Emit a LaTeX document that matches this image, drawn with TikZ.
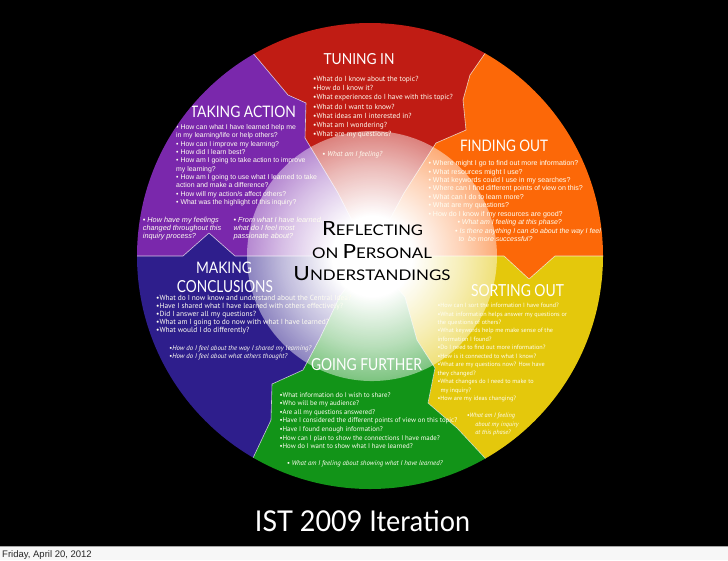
\documentclass[tikz,border=0pt]{standalone}
\usepackage{fontspec}
\usepackage{graphicx}
\usetikzlibrary{fadings}
\newfontfamily\hdfont{Lato}
\newfontfamily\myr{PT Sans}
\newfontfamily\ari{Liberation Sans}
\definecolor{cred}{RGB}{192,28,20}
\definecolor{corange}{RGB}{252,104,8}
\definecolor{cyellow}{RGB}{228,200,12}
\definecolor{cgreen}{RGB}{18,148,24}
\definecolor{cblue}{RGB}{46,30,140}
\definecolor{cpurple}{RGB}{122,40,172}
\pgfdeclareradialshading{glowshade}{\pgfpoint{0bp}{0bp}}{color(0bp)=(white); color(8bp)=(white); color(18bp)=(black!30); color(28bp)=(black!66); color(40bp)=(black!92); color(50bp)=(black)}
\pgfdeclarefading{glow}{\pgfuseshading{glowshade}}
\pgfdeclareradialshading{vigshade}{\pgfpoint{0bp}{0bp}}{color(0bp)=(black); color(32bp)=(black); color(50bp)=(black!62)}
\pgfdeclarefading{vig}{\pgfuseshading{vigshade}}
\newcommand\hdtxt[3]{\resizebox{#1pt}{#2pt}{\hdfont #3}}
\newcommand\bsc[2]{{\fontsize{20}{20}\selectfont #1}{\fontsize{15}{15}\selectfont #2}}
\begin{document}
\begin{tikzpicture}[x=1pt,y=-1pt,
  hd/.style={text=white, inner sep=0pt, anchor=base},
  bodyM/.style={text=white!95!yellow, inner sep=0pt, anchor=north west, align=left},
  bodyA/.style={text=white!95!yellow, inner sep=0pt, anchor=north west, align=left},
  bline/.style={white, line width=0.6pt, opacity=0.75, line join=round}]
\useasboundingbox (0,0) rectangle (728,560);
\fill[black] (0,0) rectangle (728,546);
\fill[gray!6] (0,546) rectangle (728,560);
\draw[gray!70, line width=0.8pt] (0,546.4) -- (728,546.4);
\coordinate (C) at (370,256);
\begin{scope}
\clip (C) circle[radius=233pt];
% sectors
\fill[cred] (C) -- (338,193) -- (305,138) -- (306,103) -- (288,95) -- (252,52) -- (236,24) -- (236,0) -- (500,0) -- (500,24) -- (486,52) -- (470,75) -- (463,100) -- (466,130) -- (436,143) -- (404,193) -- cycle;
\fill[corange] (C) -- (404,193) -- (436,143) -- (466,130) -- (463,100) -- (470,75) -- (486,52) -- (500,24) -- (500,0) -- (650,0) -- (650,256) -- (555,256) -- (529,279) -- (504,256) -- cycle;
\fill[cyellow] (C) -- (504,256) -- (529,279) -- (555,256) -- (650,256) -- (650,520) -- (500,520) -- (500,486) -- (485,458) -- (457,428) -- (428,403) -- (435,368) -- (417,340) -- (405,297) -- cycle;
\fill[cgreen] (C) -- (405,297) -- (417,340) -- (435,368) -- (428,403) -- (457,428) -- (485,458) -- (500,486) -- (500,520) -- (238,520) -- (238,486) -- (253,458) -- (271,420) -- (272,384) -- (303,370) -- (320,338) -- (340,296) -- cycle;
\fill[cblue] (C) -- (340,296) -- (320,338) -- (303,370) -- (272,384) -- (271,420) -- (253,458) -- (238,486) -- (238,520) -- (100,520) -- (100,256) -- (183,256) -- (209,233) -- (235,256) -- cycle;
\fill[cpurple] (C) -- (235,256) -- (209,233) -- (183,256) -- (100,256) -- (100,0) -- (236,0) -- (236,24) -- (252,52) -- (288,95) -- (306,103) -- (305,138) -- (338,193) -- cycle;
\fill[black, path fading=vig] (C) circle[radius=233pt];
% boundaries
\draw[bline] (C) -- (338,193) -- (305,138) -- (306,103) -- (288,95) -- (252,52) -- (236,24);
\draw[bline] (C) -- (404,193) -- (436,143) -- (466,130) -- (463,100) -- (470,75) -- (486,52) -- (500,24);
\draw[bline] (C) -- (504,256) -- (529,279) -- (555,256) -- (620,256);
\draw[bline] (C) -- (405,297) -- (417,340) -- (435,368) -- (428,403) -- (457,428) -- (485,458) -- (500,486);
\draw[bline] (C) -- (340,296) -- (320,338) -- (303,370) -- (272,384) -- (271,420) -- (253,458) -- (238,486);
\draw[bline] (C) -- (235,256) -- (209,233) -- (183,256) -- (120,256);
% glow
\fill[white, path fading=glow] (372,256) circle[radius=125pt];
% headings
\node[hd] (tuning) at (359,64) {\hdtxt{71}{11}{TUNING IN}};
\node[hd] (taking) at (243,117.5) {\hdtxt{106}{11.5}{TAKING ACTION}};
\node[hd] (finding) at (504,151.5) {\hdtxt{88}{11.5}{FINDING OUT}};
\node[hd] (sorting) at (517.5,296) {\hdtxt{93}{12}{SORTING OUT}};
\node[hd] (going) at (366.5,370) {\hdtxt{111}{12}{GOING FURTHER}};
\node[hd] (making) at (224,273.5) {\hdtxt{56}{11.5}{MAKING}};
\node[hd] (concl) at (225,292.5) {\hdtxt{96}{12}{CONCLUSIONS}};
% center
\node[inner sep=0pt, anchor=base, text=black] (refl) at (372.5,235.5) {\resizebox{101pt}{14pt}{\hdfont\bsc{R}{EFLECTING}}};
\node[inner sep=0pt, anchor=base, text=black] (onp) at (372,258) {\resizebox{120pt}{14pt}{\hdfont{\fontsize{15}{15}\selectfont ON }\bsc{P}{ERSONAL}}};
\node[inner sep=0pt, anchor=base, text=black] (und) at (372,280.4) {\resizebox{157pt}{14pt}{\hdfont\bsc{U}{NDERSTANDINGS}}};
% tuning in text
\node[bodyM, font=\myr\fontsize{7.35}{9.2}\selectfont] (tuningtxt) at (313,76.1) {•What do I know about the topic?\\•How do I know it?\\•What experiences do I have with this topic?\\•What do I want to know?\\•What ideas am I interested in?\\•What am I wondering?\\•What are my questions?};
\node[bodyM, font=\myr\itshape\fontsize{7.2}{9}\selectfont] (tuningfeel) at (322,151.2) {• What am I feeling?};
% taking action text
\node[bodyA, font=\ari\fontsize{6.9}{8.33}\selectfont] (takingtxt) at (176,124.4) {• How can what I have learned help me\\in my learning/life or help others?\\• How can I improve my learning?\\• How did I learn best?\\• How am I going to take action to improve\\my learning?\\• How am I going to use what I learned to take\\action and make a difference?\\• How will my action/s affect others?\\• What was the highlight of this inquiry?};
\node[bodyA, font=\ari\itshape\fontsize{7.3}{8.1}\selectfont] (feelleft) at (142.7,217.1) {• How have my feelings\\changed throughout this\\inquiry process?};
\node[bodyA, font=\ari\itshape\fontsize{7.3}{8.1}\selectfont] (feelright) at (233.3,217.1) {• From what I have learned,\\what do I feel most\\passionate about?};
% making conclusions text
\node[bodyM, font=\myr\fontsize{7.4}{8.1}\selectfont] (makingtxt) at (156,295.0) {•What do I now know and understand about the Central Idea?\\•Have I shared what I have learned with others effectively?\\•Did I answer all my questions?\\•What am I going to do now with what I have learned?\\•What would I do differently?};
\node[bodyM, font=\myr\itshape\fontsize{6.8}{8}\selectfont] (makingfeel) at (169,345.5) {•How do I feel about the way I shared my learning?\\•How do I feel about what others thought?};
% going further text
\node[bodyM, font=\myr\fontsize{6.85}{8.6}\selectfont] (goingtxt) at (279.3,392.1) {•What information do I wish to share?\\•Who will be my audience?\\•Are all my questions answered?\\•Have I considered the different points of view on this topic?\\•Have I found enough information?\\•How can I plan to show the connections I have made?\\•How do I want to show what I have learned?};
\node[bodyM, font=\myr\itshape\fontsize{6.8}{8}\selectfont] (goingfeel) at (286.7,460.5) {• What am I feeling about showing what I have learned?};
% finding out text
\node[bodyA, font=\ari\fontsize{7.05}{8.45}\selectfont] (findingtxt) at (428.3,160.3) {• Where might I go to find out more information?\\• What resources might I use?\\• What keywords could I use in my searches?\\• Where can I find different points of view on this?\\• What can I do to learn more?\\• What are my questions?\\• How do I know if my resources are good?};
\node[bodyA, font=\ari\itshape\fontsize{7.0}{8.5}\selectfont] (findingfeel) at (455,219.3) {\hspace{2.3pt}• What am I feeling at this phase?\\• Is there anything I can do about the way I feel\\\hspace{3.3pt}to\ \ be more successful?};
% sorting out text
\node[bodyM, font=\myr\fontsize{6.2}{8.44}\selectfont] (sortingtxt) at (437.3,303) {•How can I sort the information I have found?\\•What information helps answer my questions or\\the questions of others?\\•What keywords help me make sense of the\\information I found?\\•Do I need to find out more information?\\•How is it connected to what I know?\\•What are my questions now? How have\\they changed?\\•What changes do I need to make to\\\hspace{3pt}my inquiry?\\•How are my ideas changing?};
\node[bodyM, font=\myr\itshape\fontsize{6.3}{8.8}\selectfont] (sortingfeel) at (466.6,412.6) {•What am I feeling\\\hspace{8.5pt}about my inquiry\\\hspace{8.5pt}at this phase?};
\end{scope}
% title and footer
\node[inner sep=0pt, anchor=base, text=white] (title) at (362.5,531) {\resizebox{215pt}{21pt}{\hdfont IST 2009 Iteration}};
\node[inner sep=0pt, anchor=base west, text=black!85, font=\ari\fontsize{9.5}{10}\selectfont] (date) at (2,557) {Friday, April 20, 2012};
\end{tikzpicture}
\end{document}
